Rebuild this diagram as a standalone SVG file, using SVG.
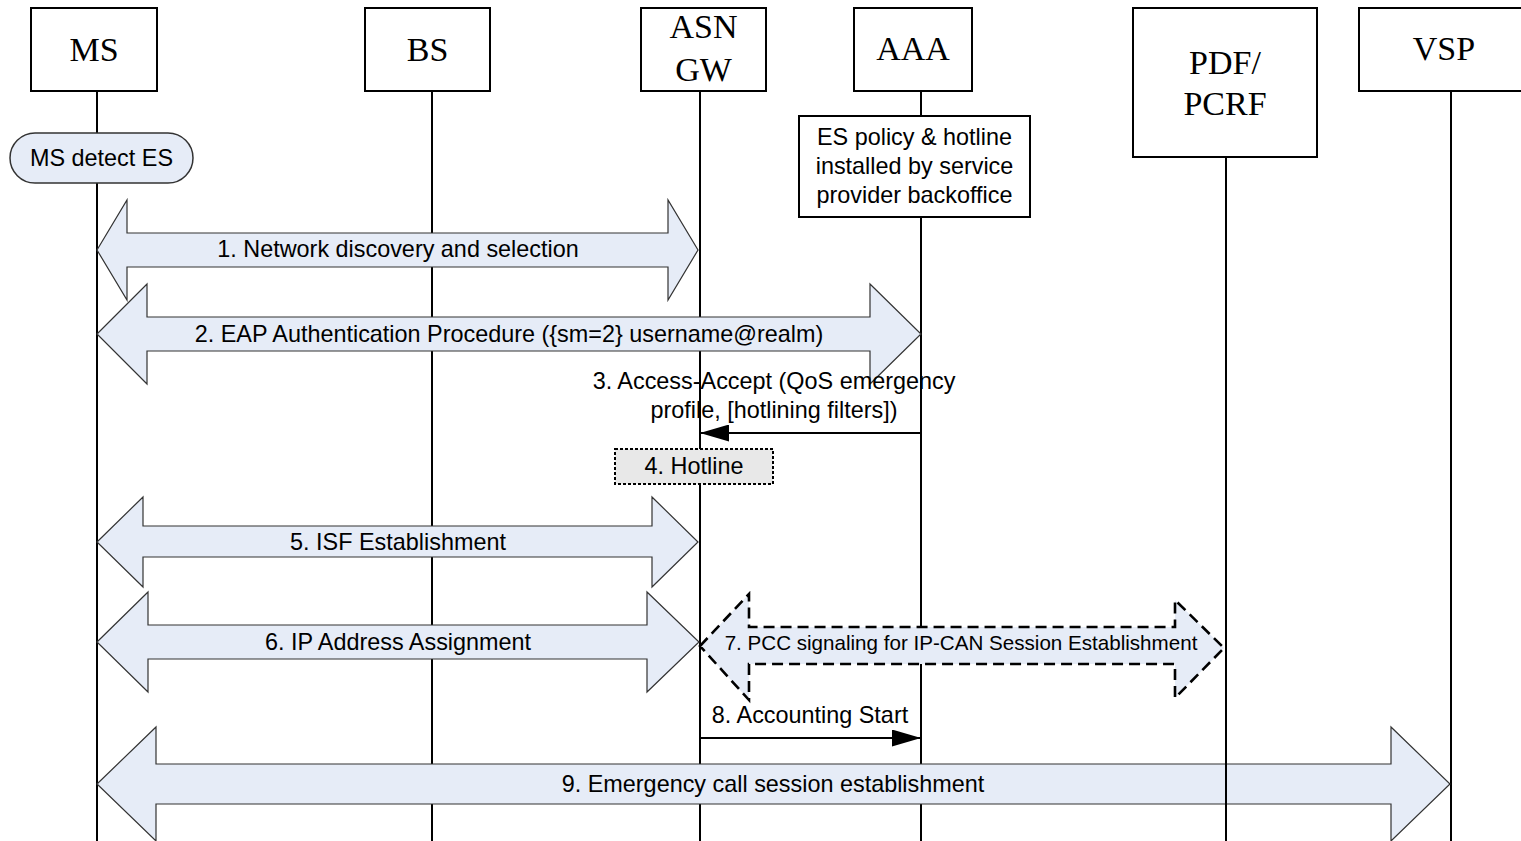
<svg xmlns="http://www.w3.org/2000/svg" width="1521" height="841" viewBox="0 0 1521 841">
<defs>
<style>
.box{fill:#fff;stroke:#000;stroke-width:2}
.life{stroke:#000;stroke-width:2;fill:none}
.hdr{font-family:"Liberation Serif","Times New Roman",serif;font-size:34px;fill:#000;text-anchor:middle}
.lbl{font-family:"Liberation Sans",Arial,sans-serif;font-size:23.4px;fill:#000;text-anchor:middle}
.blk{fill:#E6ECF7;stroke:#333;stroke-width:1.2;stroke-linejoin:miter}
.dash{fill:#E6ECF7;stroke:#000;stroke-width:2.6;stroke-dasharray:11 6}
.msg{stroke:#000;stroke-width:2;fill:none}
</style>
<marker id="ah" viewBox="0 0 29 17" refX="29" refY="8.5" markerWidth="29" markerHeight="17" markerUnits="userSpaceOnUse" orient="auto">
<path d="M0,0 L29,8.5 L0,17 Z" fill="#000"/>
</marker>
</defs>
<rect width="1521" height="841" fill="#fff"/>
<g id="lifelines">
<line class="life" x1="97" y1="91" x2="97" y2="841"/>
<line class="life" x1="432" y1="91" x2="432" y2="841"/>
<line class="life" x1="700" y1="91" x2="700" y2="841"/>
<line class="life" x1="921" y1="91" x2="921" y2="841"/>
<line class="life" x1="1451" y1="91" x2="1451" y2="841"/>
</g>
<g id="node-ms"><rect class="box" x="31" y="8" width="126" height="83"/><text class="hdr" x="94" y="61">MS</text></g>
<g id="node-bs"><rect class="box" x="365" y="8" width="125" height="83"/><text class="hdr" x="427.5" y="61">BS</text></g>
<g id="node-asngw"><rect class="box" x="641" y="8" width="125" height="83"/><text class="hdr" x="703.5" y="38">ASN</text><text class="hdr" x="703.5" y="81">GW</text></g>
<g id="node-aaa"><rect class="box" x="854" y="8" width="118" height="83"/><text class="hdr" x="913" y="60">AAA</text></g>
<g id="node-pcrf"><rect class="box" x="1133" y="8" width="184" height="149"/><text class="hdr" x="1225" y="74">PDF/</text><text class="hdr" x="1225" y="115">PCRF</text></g>
<g id="node-vsp"><rect class="box" x="1359" y="8" width="172" height="83"/><text class="hdr" x="1444" y="60">VSP</text></g>
<g id="node-msdetect"><rect x="10" y="133" width="183" height="50" rx="25" ry="25" fill="#E6ECF7" stroke="#333" stroke-width="1.5"/><text class="lbl" x="101.5" y="166">MS detect ES</text></g>
<g id="node-espolicy"><rect class="box" x="799" y="116" width="231" height="101"/><text class="lbl" x="914.5" y="145">ES policy &amp; hotline</text><text class="lbl" x="914.5" y="174">installed by service</text><text class="lbl" x="914.5" y="203">provider backoffice</text></g>
<g id="connectors">
<g id="c1"><polygon class="blk" points="97,250 127,200 127,233 668,233 668,200 698,250 668,300 668,267 127,267 127,300"/><text class="lbl" x="398" y="257">1. Network discovery and selection</text></g>
<g id="c2"><polygon class="blk" points="97,334 147,284 147,317 870,317 870,284 921,334 870,384 870,351 147,351 147,384"/><text class="lbl" x="509" y="342">2. EAP Authentication Procedure ({sm=2} username@realm)</text></g>
<g id="c3"><line class="msg" x1="921" y1="433" x2="700" y2="433" marker-end="url(#ah)"/><text class="lbl" x="774" y="389">3. Access-Accept (QoS emergency</text><text class="lbl" x="774" y="418">profile, [hotlining filters])</text></g>
<g id="c4"><rect x="615" y="449" width="158" height="35" fill="#E8E8E8" stroke="#000" stroke-width="2" stroke-dasharray="3 2"/><text class="lbl" x="694" y="474">4. Hotline</text></g>
<g id="c5"><polygon class="blk" points="97,542 143,497 143,526 652,526 652,497 698,542 652,587 652,557 143,557 143,587"/><text class="lbl" x="398" y="550">5. ISF Establishment</text></g>
<g id="c6"><polygon class="blk" points="97,642 148,592 148,625 647,625 647,592 699,642 647,692 647,659 148,659 148,692"/><text class="lbl" x="398" y="650">6. IP Address Assignment</text></g>
<g id="c7"><polygon class="dash" points="700,646 749,594 749,627 1175,627 1175,600 1224,648 1175,698 1175,664 749,664 749,700"/><text class="lbl" x="961" y="650" style="font-size:20.6px">7. PCC signaling for IP-CAN Session Establishment</text></g>
<g id="c8"><line class="msg" x1="700" y1="738" x2="921" y2="738" marker-end="url(#ah)"/><text class="lbl" x="810" y="723">8. Accounting Start</text></g>
<g id="c9"><polygon class="blk" points="97,784 156,727 156,764 1391,764 1391,727 1450,784 1391,841 1391,804 156,804 156,841"/><text class="lbl" x="773" y="792">9. Emergency call session establishment</text></g>
</g>
<g id="lifeline-pcrf"><line class="life" x1="1226" y1="157" x2="1226" y2="841"/></g>
</svg>
